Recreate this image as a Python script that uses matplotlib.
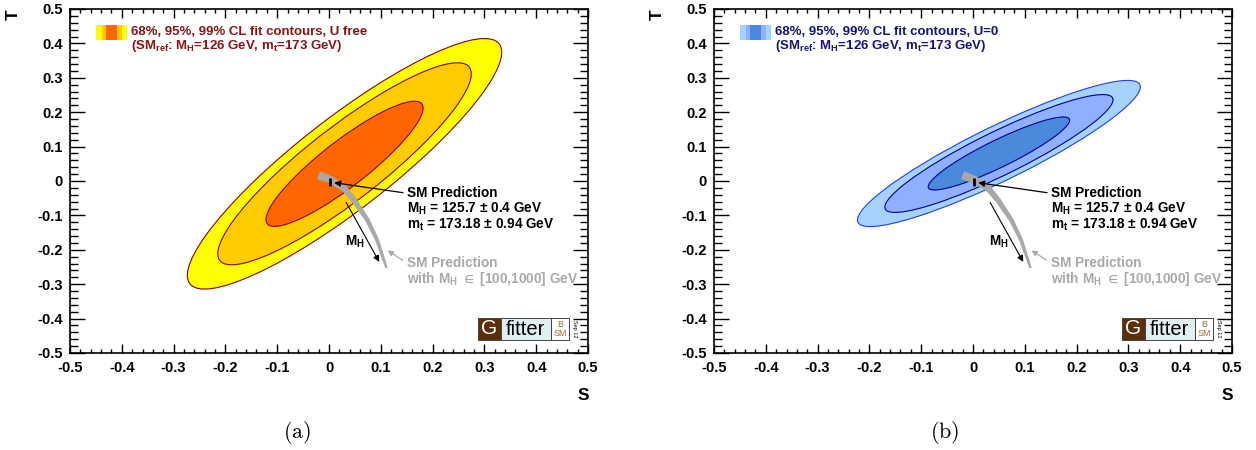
import numpy as np
import matplotlib
matplotlib.use("Agg")
import matplotlib.pyplot as plt
from matplotlib.patches import Ellipse, Rectangle, Polygon
from matplotlib.ticker import MultipleLocator, FuncFormatter

plt.rcParams["font.family"] = ["Liberation Sans", "DejaVu Sans"]
plt.rcParams["font.weight"] = "bold"
plt.rcParams["mathtext.fontset"] = "custom"
plt.rcParams["mathtext.rm"] = "Liberation Sans:bold"
plt.rcParams["mathtext.it"] = "Liberation Sans:bold"
plt.rcParams["mathtext.bf"] = "Liberation Sans:bold"
plt.rcParams["mathtext.fallback"] = "stixsans"
plt.rcParams["axes.unicode_minus"] = False

# Oblique parameter fit: (a) U free, (b) U = 0
S_FIT = [0.03, 0.05]
T_FIT = [0.05, 0.08]
S_ERR = [0.10, 0.09]
T_ERR = [0.12, 0.07]
CORR  = [0.89, 0.91]
U_LABEL = ["U free", "U=0"]

# 2D delta-chi2 for 68%, 95%, 99% CL
DCHI2 = [2.30, 5.99, 9.21]

# SM prediction band for M_H in [100, 1000] GeV
SM_BAND_S = [-0.020, 0.003, 0.029, 0.048, 0.074, 0.093, 0.106, 0.111]
SM_BAND_T = [0.017, 0.004, -0.021, -0.055, -0.113, -0.172, -0.230, -0.253]
SM_BAND_HW = [4.2, 3.8, 3.2, 2.8, 2.3, 1.9, 1.5, 1.1]   # half width, px

# SM point (M_H = 125.7 GeV) with m_t error
SM_PT_S = 0.002
SM_PT_T = [0.010, -0.014]

FILL = [["#FF6600", "#FFCC00", "#FFFF00"],
        ["#4A89DC", "#8FB0FF", "#A6D2FF"]]
EDGE = [["#8B0000", "#8B0000", "#8B0000"],
        ["#000090", "#000090", "#2040F0"]]
TEXT_COL = ["#8B1414", "#14147A"]
SWATCH = [["#FFFF00", "#FFCC00", "#FF6600", "#FFCC00", "#FFFF00"],
          ["#A6D2FF", "#8FB0FF", "#4A89DC", "#8FB0FF", "#A6D2FF"]]
SWATCH_W = [5.7, 4.3, 10.7, 5.0, 5.6]

W, H = 1256, 450
fig = plt.figure(figsize=(W / 100, H / 100), dpi=100)
GREY = "#A8A8A8"


def ellipse_geom(sx, sy, rho, k):
    cov = np.array([[sx**2, rho * sx * sy], [rho * sx * sy, sy**2]])
    vals, vecs = np.linalg.eigh(cov)
    ang = np.degrees(np.arctan2(vecs[1, 1], vecs[0, 1]))
    return 2 * np.sqrt(k * vals[1]), 2 * np.sqrt(k * vals[0]), ang


def band_polygon(ax, xs, ys, hw):
    pts = ax.transData.transform(np.column_stack([xs, ys]))
    d = np.gradient(pts, axis=0)
    d /= np.linalg.norm(d, axis=1)[:, None]
    nrm = np.column_stack([-d[:, 1], d[:, 0]])
    hw = np.asarray(hw)[:, None]
    up = pts + nrm * hw
    lo = pts - nrm * hw
    poly = np.vstack([up, lo[::-1]])
    return ax.transData.inverted().transform(poly)


def draw_logo(ax):
    y0, h = 0.038, 0.064
    ax.add_patch(Rectangle((0.787, y0), 0.045, h, transform=ax.transAxes,
                           fc="#5C2E0A", ec="#444444", lw=0.7, zorder=6))
    ax.add_patch(Rectangle((0.832, y0), 0.096, h, transform=ax.transAxes,
                           fc="#E0F0F0", ec="#444444", lw=0.7, zorder=6))
    ax.add_patch(Rectangle((0.928, y0), 0.036, h, transform=ax.transAxes,
                           fc="white", ec="#444444", lw=0.7, zorder=6))
    ax.text(0.8095, y0 + h / 2, "G", transform=ax.transAxes, color="white",
            fontsize=15, fontweight="normal", ha="center", va="center", zorder=7)
    ax.text(0.880, y0 + h / 2 - 0.002, "fitter", transform=ax.transAxes,
            fontsize=14.5, fontweight="normal", ha="center", va="center", zorder=7)
    ax.text(0.946, y0 + 0.046, "B", transform=ax.transAxes, color="#A0703A",
            fontsize=6.5, fontweight="normal", ha="center", va="center", zorder=7)
    ax.text(0.946, y0 + 0.018, "SM", transform=ax.transAxes, color="#A0703A",
            fontsize=6.5, fontweight="normal", ha="center", va="center", zorder=7)
    ax.text(0.973, y0 + h / 2, "Sep 12", transform=ax.transAxes,
            fontsize=4, fontweight="normal", rotation=-90,
            ha="center", va="center", zorder=7)


fmt = FuncFormatter(lambda v, p: "0" if abs(v) < 1e-9 else f"{v:g}")
axes_left = [70, 714]
caption = ["(a)", "(b)"]
FS = 9.8

for i in range(2):
    ax = fig.add_axes([axes_left[i] / W, (H - 353) / H, 518 / W, 344 / H])
    ax.set_xlim(-0.5, 0.5)
    ax.set_ylim(-0.5, 0.5)

    # fit contours, outermost first
    for j in [2, 1, 0]:
        w, h, ang = ellipse_geom(S_ERR[i], T_ERR[i], CORR[i], DCHI2[j])
        ax.add_patch(Ellipse((S_FIT[i], T_FIT[i]), w, h, angle=ang,
                             fc=FILL[i][j], ec=EDGE[i][j], lw=0.8, zorder=2))

    # SM prediction band and point
    ax.add_patch(Polygon(band_polygon(ax, SM_BAND_S, SM_BAND_T, SM_BAND_HW),
                         closed=True, fc=GREY, ec="none", zorder=3))
    ax.plot([SM_PT_S, SM_PT_S], SM_PT_T, color="black", lw=2.0,
            solid_capstyle="butt", zorder=4)

    ax.annotate("", xy=(0.010, -0.005), xytext=(0.143, -0.034),
                arrowprops=dict(arrowstyle="-|>", color="black", lw=0.9,
                                mutation_scale=9, shrinkA=0, shrinkB=0), zorder=5)
    ax.annotate("", xy=(0.097, -0.235), xytext=(0.033, -0.062),
                arrowprops=dict(arrowstyle="-|>", color="black", lw=0.8,
                                mutation_scale=9, shrinkA=0, shrinkB=0), zorder=5)
    ax.annotate("", xy=(0.113, -0.202), xytext=(0.142, -0.230),
                arrowprops=dict(arrowstyle="-|>", color=GREY, lw=0.9,
                                mutation_scale=8, shrinkA=0, shrinkB=0), zorder=5)

    ax.text(0.050, -0.178, "M$_{\\rm H}$", fontsize=FS, ha="center", va="center")
    ax.text(0.150, -0.036, "SM Prediction", fontsize=FS, va="center")
    ax.text(0.150, -0.082, "M$_{\\rm H}$ = 125.7 ± 0.4 GeV", fontsize=FS, va="center")
    ax.text(0.150, -0.128, "m$_{\\rm t}$ = 173.18 ± 0.94 GeV", fontsize=FS, va="center")
    ax.text(0.150, -0.238, "SM Prediction", fontsize=FS, va="center", color=GREY)
    ax.text(0.150, -0.285, "with M$_{\\rm H}$ $\\in$ [100,1000] GeV", fontsize=FS,
            va="center", color=GREY)

    # legend swatch and text
    x0 = 0.050
    for c, sw in zip(SWATCH[i], SWATCH_W):
        ax.add_patch(Rectangle((x0, 0.910), sw / 518, 0.043, transform=ax.transAxes,
                               fc=c, ec="none", zorder=6))
        x0 += sw / 518
    ax.text(0.117, 0.934, f"68%, 95%, 99% CL fit contours, {U_LABEL[i]}",
            transform=ax.transAxes, fontsize=9.5, color=TEXT_COL[i], va="center")
    ax.text(0.117, 0.893,
            "(SM$_{\\rm ref}$: M$_{\\rm H}$=126 GeV, m$_{\\rm t}$=173 GeV)",
            transform=ax.transAxes, fontsize=9.5, color=TEXT_COL[i], va="center")

    draw_logo(ax)

    # ticks on all sides, pointing inwards
    ax.xaxis.set_major_locator(MultipleLocator(0.1))
    ax.xaxis.set_minor_locator(MultipleLocator(0.02))
    ax.yaxis.set_major_locator(MultipleLocator(0.1))
    ax.yaxis.set_minor_locator(MultipleLocator(0.02))
    ax.xaxis.set_major_formatter(fmt)
    ax.yaxis.set_major_formatter(fmt)
    ax.tick_params(axis="both", which="both", direction="in",
                   top=True, right=True, width=1.0, labelsize=10.5)
    ax.tick_params(axis="x", which="major", length=6.5, pad=6)
    ax.tick_params(axis="x", which="minor", length=3.2)
    ax.tick_params(axis="y", which="major", length=11, pad=5)
    ax.tick_params(axis="y", which="minor", length=5.8)
    for lab in ax.get_xticklabels() + ax.get_yticklabels():
        lab.set_fontweight("bold")
    for sp in ax.spines.values():
        sp.set_linewidth(1.2)

    ax.text(0.99, -0.125, "S", transform=ax.transAxes, fontsize=12.5,
            ha="center", va="center")
    ax.text(-0.110, 0.983, "T", transform=ax.transAxes, fontsize=12.5,
            rotation=90, ha="center", va="center")

    fig.text((axes_left[i] + 227 + (i * 4)) / W, 0.038, f"$\\mathrm{{{caption[i]}}}$",
             fontsize=16, ha="center", va="center", math_fontfamily="cm")

fig.savefig("out.png", dpi=100)
